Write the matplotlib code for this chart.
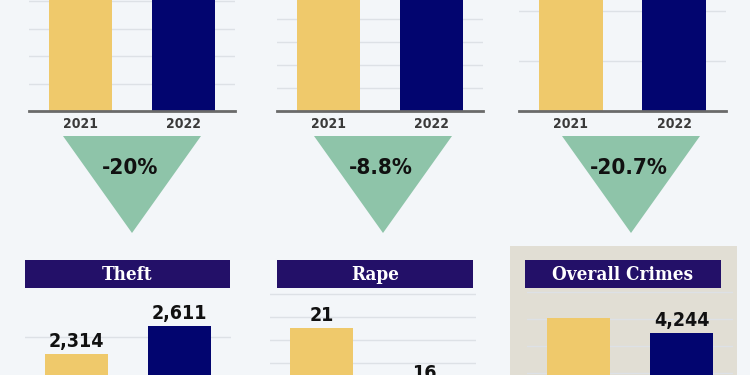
import matplotlib.pyplot as plt
import numpy as np
from matplotlib.patches import Polygon, Rectangle

W, H = 750, 375
BG = '#f3f6f9'
YELLOW = '#efc96b'
NAVY = '#02056f'
TITLE_BG = '#231068'
TRI = '#8ec4a9'
BEIGE = '#e1ded4'
NUM_FONT = dict(family='DejaVu Sans', fontstretch='condensed', fontweight='bold')
TITLE_FONT = dict(family='DejaVu Serif', fontstretch='condensed', fontweight='bold')

years = ['2021', '2022']

# top row: bars run past the top edge of the crop
top_vals = [[250, 200], [250, 228], [1000, 793]]
top_changes = ['-20%', '-8.8%', '-20.7%']
top_steps = [20, 20, 100]

# bottom row
bottom_titles = ['Theft', 'Rape', 'Overall Crimes']
bottom_vals = [[2314, 2611], [21, 16], [4520, 4244]]
bottom_labels = [['2,314', '2,611'], ['21', '16'], [None, '4,244']]
bottom_steps = [500, 2, 500]

fig = plt.figure(figsize=(7.5, 3.75), dpi=100)
fig.patch.set_facecolor(BG)


def px_axes(x0, y0, x1, y1, **kw):
    # box in pixels, measured from the top-left corner
    return fig.add_axes([x0 / W, 1 - y1 / H, (x1 - x0) / W, (y1 - y0) / H], **kw)


def bar_panel(ax, vals, step, ytop, show_years=True):
    ax.patch.set_visible(False)
    ax.bar([0, 1], vals, width=0.62, color=[YELLOW, NAVY], zorder=2)
    ax.set_xlim(-0.5, 1.5)
    ax.set_ylim(0, ytop)
    ax.set_yticks(np.arange(step, ytop, step))
    ax.grid(axis='y', color='#dde1e6', lw=1)
    ax.set_axisbelow(True)
    for s in ['left', 'right', 'top']:
        ax.spines[s].set_visible(False)
    ax.spines['bottom'].set_color('#6a6a6a')
    ax.spines['bottom'].set_linewidth(2)
    ax.tick_params(left=False, labelleft=False, bottom=False, pad=0.5)
    if show_years:
        ax.set_xticks([0, 1], years)
        for t in ax.get_xticklabels():
            t.update(NUM_FONT)
            t.set_fontsize(10)
            t.set_color('#3a3a3a')
    else:
        ax.set_xticks([])


back = fig.add_axes([0, 0, 1, 1], zorder=-1)
back.set_xlim(0, W)
back.set_ylim(H, 0)
back.axis('off')
front = fig.add_axes([0, 0, 1, 1], zorder=5)
front.set_xlim(0, W)
front.set_ylim(H, 0)
front.axis('off')

# top row
top_boxes = [(29, 235), (277, 483), (519, 726)]
top_grid_px = [27.5, 23, 50]
tri_centers = [132, 383, 631]
for i in range(3):
    x0, x1 = top_boxes[i]
    ax = px_axes(x0, 0, x1, 111)
    bar_panel(ax, top_vals[i], top_steps[i], top_steps[i] * 111 / top_grid_px[i])
    c = tri_centers[i]
    back.add_patch(Polygon([[c - 69, 136], [c + 69, 136], [c, 233]],
                           closed=True, color=TRI, lw=0))
    back.text(c - 2, 168, top_changes[i], ha='center', va='center',
              fontsize=16, color='#111111', **NUM_FONT)

# bottom row
back.add_patch(Rectangle((510, 246), 227, 140, color=BEIGE, lw=0))
bottom_boxes = [(25, 231), (270, 476), (527, 733)]
baselines = [572, 569.5, 562]
scales = [0.0942, 11.5, 0.054]
title_boxes = [(25, 230), (277, 473), (525, 721)]
for i in range(3):
    x0, x1 = bottom_boxes[i]
    base = baselines[i]
    ax = px_axes(x0, 290, x1, base)
    bar_panel(ax, bottom_vals[i], bottom_steps[i], (base - 290) / scales[i],
              show_years=False)
    for j, lab in enumerate(bottom_labels[i]):
        if lab is None:
            continue
        ax.annotate(lab, (j, bottom_vals[i][j]), xytext=(0, 2),
                    textcoords='offset points', ha='center', va='bottom',
                    fontsize=14, color='#111111', annotation_clip=False,
                    **NUM_FONT)
    tx0, tx1 = title_boxes[i]
    front.add_patch(Rectangle((tx0, 260), tx1 - tx0, 28, color=TITLE_BG, lw=0))
    front.text((tx0 + tx1) / 2, 274.5, bottom_titles[i], ha='center', va='center',
               fontsize=13.5, color='white', **TITLE_FONT)

fig.savefig('out.png', dpi=100, facecolor=BG)
